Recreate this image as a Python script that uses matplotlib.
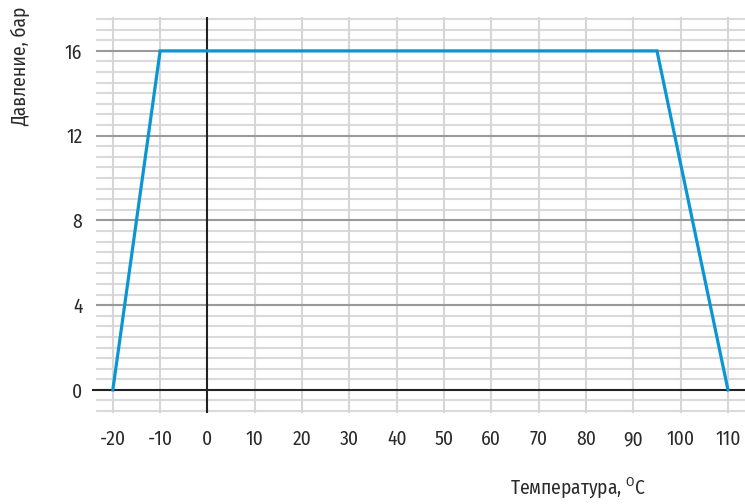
import matplotlib.pyplot as plt
import numpy as np

# pressure vs temperature envelope
temp = [-20, -10, 95, 110]
pressure = [0, 16, 16, 0]
xticks = [-20, -10, 0, 10, 20, 30, 40, 50, 60, 70, 80, 90, 100, 110]
yticks = [0, 4, 8, 12, 16]

fam = 'Fira Sans Condensed'
plt.rcParams['font.family'] = [fam, 'DejaVu Sans']
plt.rcParams['font.weight'] = 'normal'
plt.rcParams['mathtext.fontset'] = 'custom'
plt.rcParams['mathtext.rm'] = fam

fig = plt.figure(figsize=(7.45, 5.04), dpi=100)
ax = fig.add_axes([92/745, 91/504, 653/745, 396/504])
ax.set_xlim(-24.4, 113.6)
ax.set_ylim(-1.09, 17.6)

# minor horizontal grid every 0.5
for y in np.arange(-1.0, 17.51, 0.5):
    if y % 4 == 0:
        continue
    ax.plot([-23.4, 113.6], [y, y], color='#dadada', lw=1.5, zorder=1)
for y in yticks[1:]:
    ax.plot([-23.4, 113.6], [y, y], color='#9a9a9a', lw=1.5, zorder=2)
for x in xticks:
    if x == 0:
        continue
    ax.plot([x, x], [-1.09, 17.6], color='#d6d6d6', lw=1.5, zorder=1)

ax.axhline(0, color='#222222', lw=1.5, zorder=3)
ax.axvline(0, color='#222222', lw=1.5, zorder=3)

ax.plot(temp, pressure, color='#0a96d2', lw=2.3, zorder=4, solid_joinstyle='miter')

for s in ax.spines.values():
    s.set_visible(False)
ax.set_xticks(xticks)
ax.set_xticklabels([str(v) for v in xticks])
ax.set_yticks(yticks)
ax.tick_params(length=0, labelsize=14, colors='#2a2a2a', pad=12)
ax.tick_params(axis='y', pad=7)

fig.text(20/745, 1 - 66/504, 'Давление, бар', rotation=90, ha='center', va='center',
         fontsize=14, color='#2a2a2a')
fig.text(578/745, 1 - 488/504, 'Температура, $^{\\mathrm{O}}$C', ha='center', va='center',
         fontsize=14, color='#2a2a2a')

fig.savefig('out.png', dpi=100)
